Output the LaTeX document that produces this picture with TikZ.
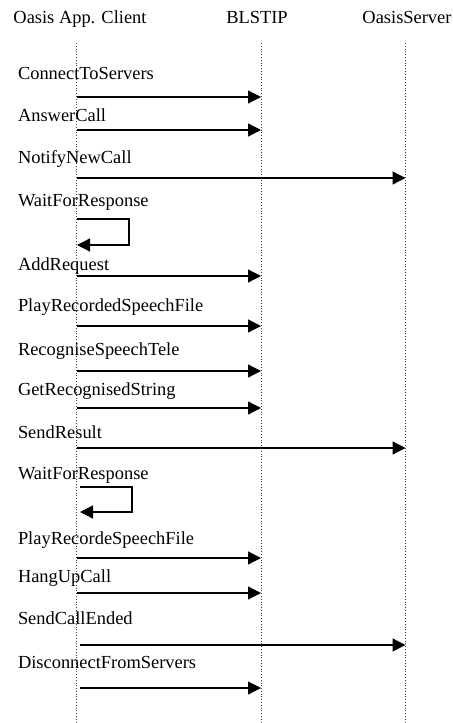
\documentclass[tikz,border=0pt]{standalone}
\usepackage{fontspec}
\setmainfont{Liberation Serif}
\usetikzlibrary{arrows.meta}
\begin{document}
\begin{tikzpicture}[x=1bp,y=-1bp,
  every node/.style={inner sep=0pt,outer sep=0pt,font=\fontsize{18.5}{21}\selectfont},
  head/.style={anchor=base},
  lbl/.style={anchor=base west},
  lifeline/.style={dotted,line width=0.8bp,black!75},
  msgline/.style={line width=1.3bp,-{Triangle[length=13bp,width=13bp]}},
]
\useasboundingbox (0,0) rectangle (453,723);

% participants
\node[head] (client) at (80,24) {Oasis App. Client};
\node[head] (blstip) at (257,24) {BLSTIP};
\node[head] (server) at (407,24) {OasisServer};

% lifelines
\coordinate (cT) at (76.5,43);  \coordinate (cB) at (76.5,723);
\coordinate (bT) at (261,43);   \coordinate (bB) at (261,723);
\coordinate (sT) at (405.5,43); \coordinate (sB) at (405.5,723);
\draw[lifeline] (cT) -- (cB);
\draw[lifeline] (bT) -- (bB);
\draw[lifeline] (sT) -- (sB);

% message labels
\node[lbl] (l1)  at (18,80)  {ConnectToServers};
\node[lbl] (l2)  at (18,122) {AnswerCall};
\node[lbl] (l3)  at (18,163) {NotifyNewCall};
\node[lbl] (l4)  at (18,206) {WaitForResponse};
\node[lbl] (l5)  at (18,270) {AddRequest};
\node[lbl] (l6)  at (18,311) {PlayRecordedSpeechFile};
\node[lbl] (l7)  at (18,355) {RecogniseSpeechTele};
\node[lbl] (l8)  at (18,395) {GetRecognisedString};
\node[lbl] (l9)  at (18,438) {SendResult};
\node[lbl] (l10) at (18,479) {WaitForResponse};
\node[lbl] (l11) at (18,544) {PlayRecordeSpeechFile};
\node[lbl] (l12) at (18,582) {HangUpCall};
\node[lbl] (l13) at (18,624) {SendCallEnded};
\node[lbl] (l14) at (18,668) {DisconnectFromServers};

% message end points
\coordinate (a1s) at (77,97);    \coordinate (a1e) at (261,97);
\coordinate (a2s) at (77,130);   \coordinate (a2e) at (261,130);
\coordinate (a3s) at (77,178);   \coordinate (a3e) at (405.5,178);
\coordinate (w1a) at (77,219);   \coordinate (w1b) at (129,219);
\coordinate (w1c) at (129,245);  \coordinate (w1d) at (77,245);
\coordinate (a5s) at (77,276);   \coordinate (a5e) at (261,276);
\coordinate (a6s) at (77,326);   \coordinate (a6e) at (261,326);
\coordinate (a7s) at (77,371);   \coordinate (a7e) at (261,371);
\coordinate (a8s) at (77,408);   \coordinate (a8e) at (261,408);
\coordinate (a9s) at (77,448);   \coordinate (a9e) at (405.5,448);
\coordinate (w2a) at (80,487);   \coordinate (w2b) at (132,487);
\coordinate (w2c) at (132,512);  \coordinate (w2d) at (80,512);
\coordinate (a11s) at (77,558);  \coordinate (a11e) at (261,558);
\coordinate (a12s) at (77,593);  \coordinate (a12e) at (261,593);
\coordinate (a13s) at (80,645);  \coordinate (a13e) at (405.5,645);
\coordinate (a14s) at (80,688);  \coordinate (a14e) at (261,688);

% messages
\draw[msgline] (a1s) -- (a1e);
\draw[msgline] (a2s) -- (a2e);
\draw[msgline] (a3s) -- (a3e);
\draw[msgline] (w1a) -- (w1b) -- (w1c) -- (w1d);
\draw[msgline] (a5s) -- (a5e);
\draw[msgline] (a6s) -- (a6e);
\draw[msgline] (a7s) -- (a7e);
\draw[msgline] (a8s) -- (a8e);
\draw[msgline] (a9s) -- (a9e);
\draw[msgline] (w2a) -- (w2b) -- (w2c) -- (w2d);
\draw[msgline] (a11s) -- (a11e);
\draw[msgline] (a12s) -- (a12e);
\draw[msgline] (a13s) -- (a13e);
\draw[msgline] (a14s) -- (a14e);
\end{tikzpicture}
\end{document}
